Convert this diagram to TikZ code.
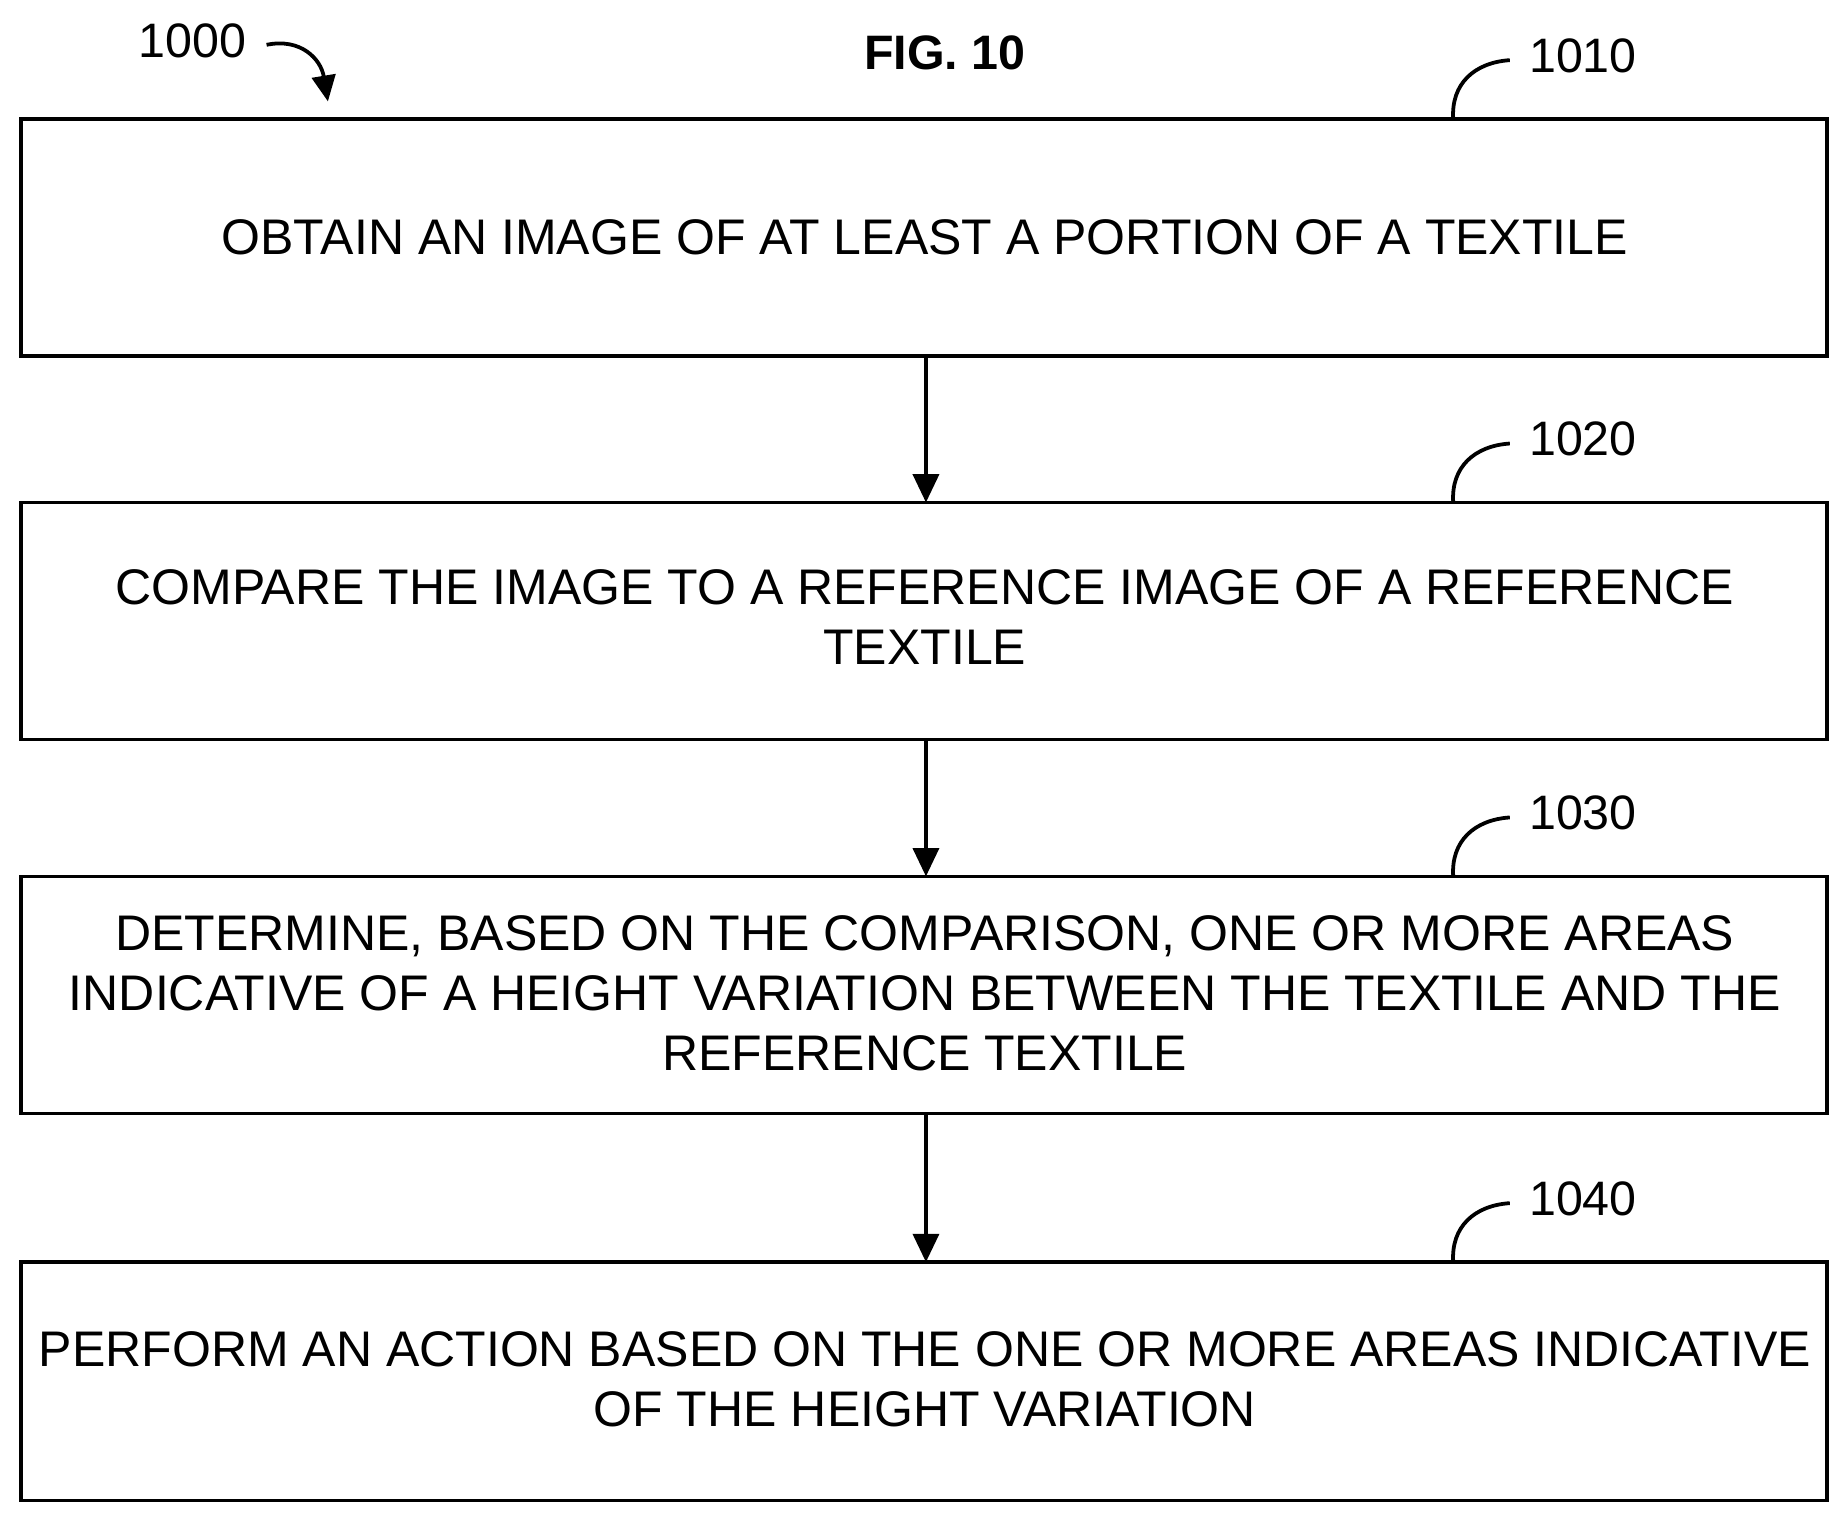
\documentclass[tikz,border=0pt]{standalone}
\usepackage{fontspec}
\setmainfont{Liberation Sans}
\usetikzlibrary{arrows.meta}
\begin{document}
\begin{tikzpicture}[x=0.5pt,y=-0.5pt,
  boxstyle/.style={draw,line width=1.6pt},
  txt/.style={font=\fontsize{21.2}{25.5}\selectfont,align=center},
  lbl/.style={font=\fontsize{20.5}{24}\selectfont},
  arr/.style={line width=1.6pt,-{Triangle[length=12pt,width=11pt]}}]
\useasboundingbox (0,0) rectangle (1565,1289);
\draw[boxstyle] (18,101) rectangle (1549,302);
\draw[boxstyle] (18,426) rectangle (1549,627);
\draw[boxstyle] (18,743) rectangle (1549,944);
\draw[boxstyle] (18,1070) rectangle (1549,1272);
\node[txt] (t1) at (784,201) {OBTAIN AN IMAGE OF AT LEAST A PORTION OF A TEXTILE};
\node[txt] (t2) at (784,523) {COMPARE THE IMAGE TO A REFERENCE IMAGE OF A REFERENCE\\TEXTILE};
\node[txt] (t3) at (784,842) {DETERMINE, BASED ON THE COMPARISON, ONE OR MORE AREAS\\INDICATIVE OF A HEIGHT VARIATION BETWEEN THE TEXTILE AND THE\\REFERENCE TEXTILE};
\node[txt] (t4) at (784,1169) {PERFORM AN ACTION BASED ON THE ONE OR MORE AREAS INDICATIVE\\OF THE HEIGHT VARIATION};
\coordinate (a1) at (785,302); \coordinate (b1) at (785,426);
\coordinate (a2) at (785,627); \coordinate (b2) at (785,743);
\coordinate (a3) at (785,944); \coordinate (b3) at (785,1070);
\draw[arr] (a1) -- (b1);
\draw[arr] (a2) -- (b2);
\draw[arr] (a3) -- (b3);
\node[font=\bfseries\fontsize{20.5}{24}\selectfont] (fig) at (801,45) {FIG. 10};
\node[lbl] (n1000) at (163,35) {1000};
\coordinate (c0) at (226,38); \coordinate (c1) at (278,86);
\draw[line width=1.6pt,-{Triangle[length=11pt,width=10pt]}] (c0) .. controls (255,32) and (272,50) .. (c1);
\foreach \y/\l in {101/1010,426/1020,743/1030,1070/1040}{
  \node[lbl] (n\l) at (1342,\y-54) {\l};
  \draw[line width=1.6pt] (1232,\y) .. controls (1230,\y-30) and (1250,\y-48) .. (1280,\y-50);
}
\end{tikzpicture}
\end{document}
